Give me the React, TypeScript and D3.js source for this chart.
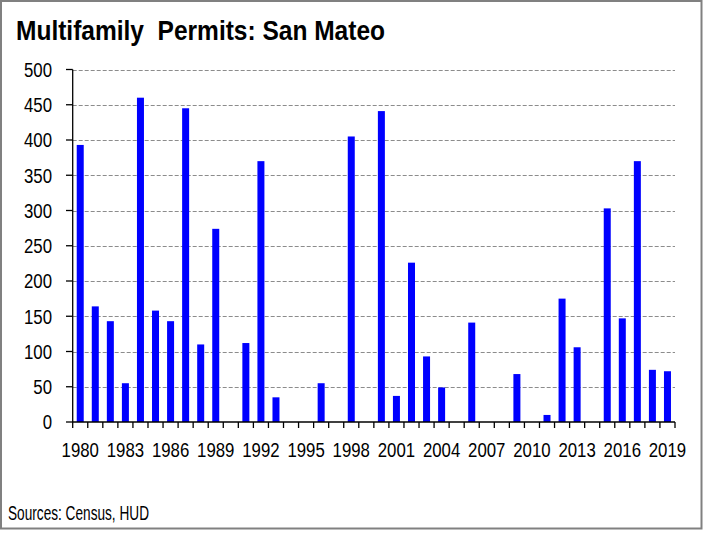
import React from "react";
import * as d3 from "d3";

const years: number[] = d3.range(1980, 2020);
const permits: number[] = [
  393, 164, 143, 55, 460, 158, 143, 445, 110, 274,
  0, 112, 370, 35, 0, 0, 55, 0, 405, 0,
  441, 37, 226, 93, 49, 0, 141, 0, 0, 68,
  0, 10, 175, 106, 0, 303, 147, 370, 74, 72,
];
const yTicks: number[] = [0, 50, 100, 150, 200, 250, 300, 350, 400, 450, 500];
const xLabelYears: number[] = [1980, 1983, 1986, 1989, 1992, 1995, 1998, 2001, 2004, 2007, 2010, 2013, 2016, 2019];
const title = "Multifamily  Permits: San Mateo";
const source = "Sources: Census, HUD";

const W = 703;
const H = 533;
const FONT = "'Liberation Sans', Arial, sans-serif";
const NARROW = 0.82;

function NText(props: {
  x: number;
  y: number;
  size: number;
  anchor?: "start" | "middle" | "end";
  bold?: boolean;
  len?: number;
  dy?: string;
  children: React.ReactNode;
}) {
  const { x, y, size, anchor = "start", bold, len, dy, children } = props;
  return (
    <g transform={`translate(${x},${y}) scale(${NARROW},1)`}>
      <text
        x={0}
        y={0}
        dy={dy}
        textAnchor={anchor}
        fontFamily={FONT}
        fontSize={size}
        fontWeight={bold ? "bold" : "normal"}
        fill="#000"
        style={{ whiteSpace: "pre" }}
        textLength={len ? len / NARROW : undefined}
        lengthAdjust={len ? "spacingAndGlyphs" : undefined}
      >
        {children}
      </text>
    </g>
  );
}

export default function App() {
  const left = 72.7;
  const right = 675;
  const top = 69.5;
  const bottom = 422;

  const x = d3
    .scaleBand<number>()
    .domain(years)
    .range([left, right])
    .paddingInner(0.535)
    .paddingOuter(0.2675);
  const y = d3.scaleLinear().domain([0, 500]).range([bottom, top]);
  const step = x.step();
  const bw = x.bandwidth();
  const boundaries = years.map((yr) => (x(yr) as number) - (step - bw) / 2).concat([right]);

  return (
    <div style={{ position: "absolute", left: 0, top: 0, width: W, height: H, background: "#fff" }}>
      <svg width={W} height={H} style={{ display: "block" }}>
        <rect x={0} y={0} width={W} height={H} fill="#fff" />
        <rect x={1} y={1} width={700.5} height={527.5} fill="none" stroke="#808080" strokeWidth={2} />
        <NText x={16} y={40} size={27.5} bold len={369}>
          {title}
        </NText>
        {/* gridlines */}
        {yTicks
          .filter((t) => t > 0)
          .map((t) => (
            <line
              key={"g" + t}
              x1={left}
              x2={right}
              y1={Math.round(y(t)) + 0.5}
              y2={Math.round(y(t)) + 0.5}
              stroke="#8c8c8c"
              strokeWidth={1}
              strokeDasharray="4,2"
            />
          ))}
        {/* bars */}
        {years.map((yr, i) =>
          permits[i] > 0 ? (
            <rect
              key={"b" + yr}
              x={x(yr) as number}
              y={y(permits[i])}
              width={bw}
              height={bottom - y(permits[i])}
              fill="#0000ff"
            />
          ) : null
        )}
        {/* y axis */}
        <line x1={left} x2={left} y1={top} y2={bottom} stroke="#000" strokeWidth={1.3} />
        {yTicks.map((t) => (
          <g key={"yt" + t}>
            <line x1={66} x2={left} y1={y(t)} y2={y(t)} stroke="#000" strokeWidth={1.3} />
            <NText x={52} y={y(t)} dy="0.36em" anchor="end" size={20.5}>
              {t}
            </NText>
          </g>
        ))}
        {/* x axis */}
        <line x1={left} x2={right} y1={bottom} y2={bottom} stroke="#000" strokeWidth={1.3} />
        {boundaries.map((bx, i) => (
          <line key={"xt" + i} x1={bx} x2={bx} y1={bottom} y2={bottom + 6} stroke="#000" strokeWidth={1.3} />
        ))}
        {xLabelYears.map((yr) => (
          <NText key={"xl" + yr} x={(x(yr) as number) + bw / 2} y={457} anchor="middle" size={20.5}>
            {yr}
          </NText>
        ))}
        <NText x={8} y={520} size={19.5} len={141}>
          {source}
        </NText>
      </svg>
    </div>
  );
}
